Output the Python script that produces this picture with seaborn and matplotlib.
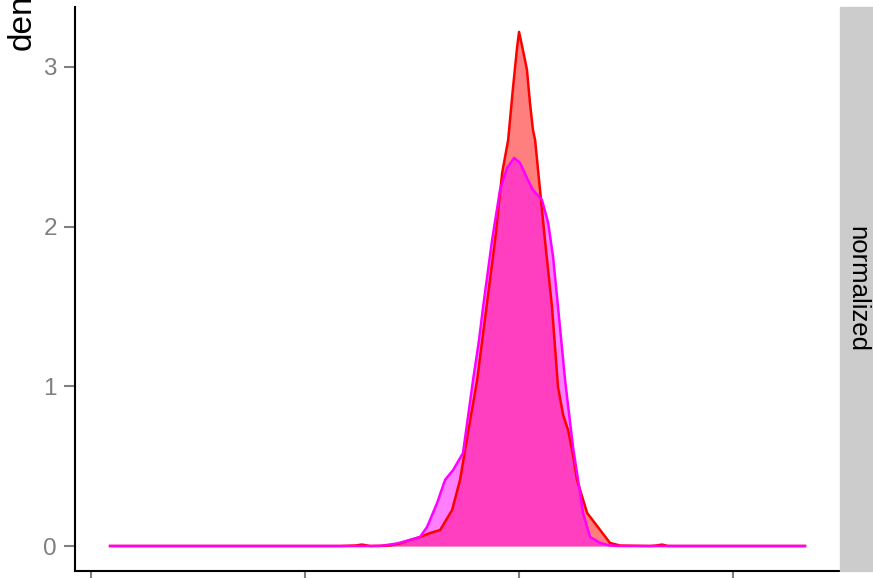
import numpy as np
import pandas as pd
import matplotlib
matplotlib.use("Agg")
import matplotlib.pyplot as plt
import seaborn as sns
from matplotlib.patches import Rectangle

# density curves (x, density)
raw_x = [-1.911, -0.836, -0.766, -0.734, -0.696, -0.603, -0.556, -0.509, -0.463, -0.416,
         -0.369, -0.313, -0.276, -0.238, -0.196, -0.154, -0.112, -0.079, -0.051, -0.028,
         -0.009, 0.0, 0.023, 0.037, 0.051, 0.065, 0.075, 0.098, 0.121, 0.154,
         0.182, 0.206, 0.229, 0.252, 0.271, 0.318, 0.379, 0.425, 0.472, 0.612,
         0.640, 0.668, 0.696, 1.336]
raw_y = [0.0, 0.0, 0.003, 0.009, 0.0, 0.003, 0.016, 0.038, 0.056, 0.081,
         0.100, 0.225, 0.413, 0.714, 1.039, 1.478, 1.916, 2.336, 2.542, 2.874,
         3.125, 3.219, 3.074, 2.981, 2.774, 2.605, 2.542, 2.229, 1.916, 1.497,
         0.996, 0.820, 0.726, 0.570, 0.413, 0.207, 0.100, 0.019, 0.003, 0.0,
         0.003, 0.009, 0.0, 0.0]

norm_x = [-1.911, -0.650, -0.570, -0.509, -0.463, -0.430, -0.383, -0.346, -0.308, -0.262,
          -0.215, -0.187, -0.168, -0.126, -0.089, -0.056, -0.023, 0.005, 0.037, 0.065,
          0.107, 0.136, 0.159, 0.182, 0.215, 0.252, 0.276, 0.299, 0.332, 0.379,
          0.425, 0.472, 1.336]
norm_y = [0.0, 0.0, 0.016, 0.038, 0.056, 0.119, 0.269, 0.413, 0.476, 0.582,
          1.039, 1.290, 1.497, 1.916, 2.229, 2.367, 2.430, 2.398, 2.304, 2.229,
          2.167, 2.023, 1.810, 1.497, 1.039, 0.620, 0.413, 0.207, 0.056, 0.019,
          0.003, 0.0, 0.0]

x_ticks = [-2, -1, 0, 1]
y_ticks = [0, 1, 2, 3]

W, H = 873, 578
plt.rcParams['font.family'] = ['Liberation Sans', 'DejaVu Sans']
fig = plt.figure(figsize=(W / 100, H / 100), dpi=100)
ax = fig.add_axes([75 / W, (H - 571) / H, (839 - 75) / W, (571 - 7) / H])

curves = [(raw_x, raw_y, 'red'), (norm_x, norm_y, 'magenta')]
for xs, ys, col in curves:
    df = pd.DataFrame({'x': xs, 'y': ys})
    ax.fill_between(df['x'], 0, df['y'], color=col, alpha=0.5, linewidth=0)
    sns.lineplot(data=df, x='x', y='y', sort=False, estimator=None,
                 color=col, linewidth=1.8, ax=ax)

ax.set_xlim(-2.075, 1.495)
ax.set_ylim(-0.1565, 3.375)
ax.set_xticks(x_ticks)
ax.set_yticks(y_ticks)
ax.set_xticklabels([])
ax.set_xlabel('')
ax.set_ylabel('')
for s in ['top', 'right']:
    ax.spines[s].set_visible(False)
for s in ['left', 'bottom']:
    ax.spines[s].set_linewidth(1.5)
    ax.spines[s].set_color('black')
ax.tick_params(axis='both', colors='#7f7f7f', labelcolor='#7f7f7f', length=8,
               width=1.5, labelsize=17.5, pad=5)

# y title, cropped at the top like the reference
fig.text(22 / W, 1 - 50 / H, 'density', rotation=90, ha='center', va='bottom',
         fontsize=24, color='black')

# facet strip on the right
fig.patches.append(Rectangle((840 / W, (H - 571) / H), (W - 840) / W, (571 - 7) / H,
                             transform=fig.transFigure, color='#cccccc', zorder=0))
fig.text(857 / W, 1 - 289 / H, 'normalized', rotation=-90, ha='center', va='center',
         fontsize=18.5, color='black')

fig.savefig('out.png', dpi=100)
